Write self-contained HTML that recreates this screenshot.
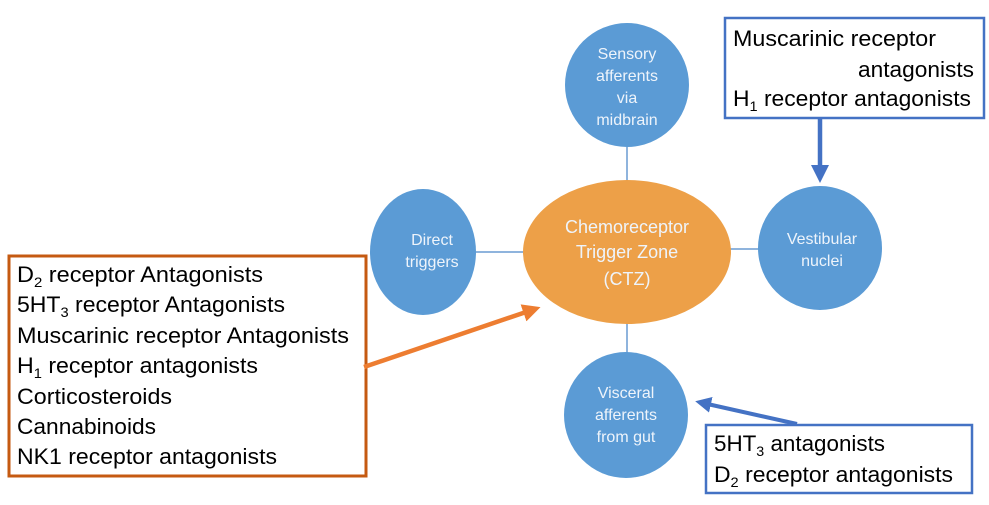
<!DOCTYPE html>
<html><head><meta charset="utf-8"><style>
html,body{margin:0;padding:0;background:#fff;}
svg{display:block;}
text{font-family:"Liberation Sans",sans-serif;}
.w{fill:#eef4fb;font-size:15px;text-anchor:middle;}
.b{fill:#000;font-size:22px;}
</style></head><body>
<svg width="989" height="505" viewBox="0 0 989 505" xmlns="http://www.w3.org/2000/svg">
<defs>
<marker id="ab" markerWidth="4" markerHeight="4" refX="2" refY="2" orient="auto" markerUnits="strokeWidth"><path d="M0,0 L4,2 L0,4 z" fill="#4472c4"/></marker>
<marker id="ao" markerWidth="4" markerHeight="4" refX="2" refY="2" orient="auto" markerUnits="strokeWidth"><path d="M0,0 L4,2 L0,4 z" fill="#ed7d31"/></marker>
</defs>
<g stroke="#8fb4dd" stroke-width="2">
<line x1="627" y1="147" x2="627" y2="182"/>
<line x1="476" y1="252" x2="525" y2="252"/>
<line x1="728" y1="249" x2="760" y2="249"/>
<line x1="627" y1="323" x2="627" y2="354"/>
</g>
<ellipse cx="627" cy="85" rx="62" ry="62" fill="#5b9bd5"/>
<ellipse cx="423" cy="252" rx="53" ry="63" fill="#5b9bd5"/>
<ellipse cx="820" cy="248" rx="62" ry="62" fill="#5b9bd5"/>
<ellipse cx="626" cy="415" rx="62" ry="63" fill="#5b9bd5"/>
<ellipse cx="627" cy="252" rx="104" ry="72" fill="#eda048"/>
<text class="w" x="627" y="59" style="font-size:16px">Sensory</text>
<text class="w" x="627" y="81" style="font-size:16px">afferents</text>
<text class="w" x="627" y="103" style="font-size:16px">via</text>
<text class="w" x="627" y="125" style="font-size:16px">midbrain</text>
<text class="w" x="432" y="245" style="font-size:16px">Direct</text>
<text class="w" x="432" y="267" style="font-size:16px">triggers</text>
<text class="w" x="822" y="244" style="font-size:16px">Vestibular</text>
<text class="w" x="822" y="266" style="font-size:16px">nuclei</text>
<text class="w" x="626" y="398" style="font-size:16px">Visceral</text>
<text class="w" x="626" y="420" style="font-size:16px">afferents</text>
<text class="w" x="626" y="442" style="font-size:16px">from gut</text>
<text class="w" x="627" y="233" style="font-size:18px">Chemoreceptor</text>
<text class="w" x="627" y="258" style="font-size:18px">Trigger Zone</text>
<text class="w" x="627" y="285" style="font-size:18px">(CTZ)</text>
<rect x="725" y="18" width="259" height="100" fill="#fff" stroke="#4472c4" stroke-width="2.5"/>
<text class="b" x="733" y="46" textLength="203" lengthAdjust="spacingAndGlyphs">Muscarinic receptor</text>
<text class="b" x="858" y="77" textLength="116" lengthAdjust="spacingAndGlyphs">antagonists</text>
<text class="b" x="733" y="106" textLength="238" lengthAdjust="spacingAndGlyphs">H<tspan font-size="14" dy="5">1</tspan><tspan dy="-5"> receptor antagonists</tspan></text>
<line x1="820" y1="118" x2="820" y2="174" stroke="#4472c4" stroke-width="4.5" marker-end="url(#ab)"/>
<rect x="9" y="256" width="357" height="220" fill="#fff" stroke="#c55a11" stroke-width="3"/>
<text class="b" x="17" y="282" textLength="246" lengthAdjust="spacingAndGlyphs">D<tspan font-size="14" dy="5">2</tspan><tspan dy="-5"> receptor Antagonists</tspan></text>
<text class="b" x="17" y="312" textLength="268" lengthAdjust="spacingAndGlyphs">5HT<tspan font-size="14" dy="5">3</tspan><tspan dy="-5"> receptor Antagonists</tspan></text>
<text class="b" x="17" y="343" textLength="332" lengthAdjust="spacingAndGlyphs">Muscarinic receptor Antagonists</text>
<text class="b" x="17" y="373" textLength="241" lengthAdjust="spacingAndGlyphs">H<tspan font-size="14" dy="5">1</tspan><tspan dy="-5"> receptor antagonists</tspan></text>
<text class="b" x="17" y="404" textLength="155" lengthAdjust="spacingAndGlyphs">Corticosteroids</text>
<text class="b" x="17" y="434" textLength="139" lengthAdjust="spacingAndGlyphs">Cannabinoids</text>
<text class="b" x="17" y="464" textLength="260" lengthAdjust="spacingAndGlyphs">NK1 receptor antagonists</text>
<line x1="364" y1="367" x2="532" y2="310" stroke="#ed7d31" stroke-width="4.5" marker-end="url(#ao)"/>
<rect x="706" y="425" width="266" height="68" fill="#fff" stroke="#4472c4" stroke-width="2.5"/>
<text class="b" x="714" y="451" textLength="171" lengthAdjust="spacingAndGlyphs">5HT<tspan font-size="14" dy="5">3</tspan><tspan dy="-5"> antagonists</tspan></text>
<text class="b" x="714" y="482" textLength="239" lengthAdjust="spacingAndGlyphs">D<tspan font-size="14" dy="5">2</tspan><tspan dy="-5"> receptor antagonists</tspan></text>
<line x1="797" y1="424" x2="703" y2="403" stroke="#4472c4" stroke-width="4" marker-end="url(#ab)"/>
</svg>
</body></html>
